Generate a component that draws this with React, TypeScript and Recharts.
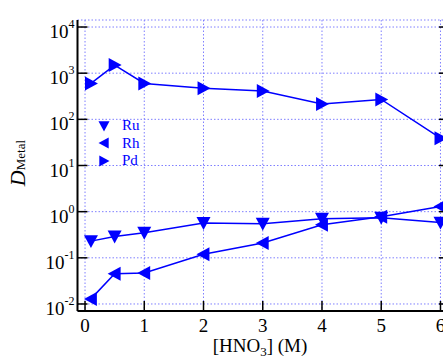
import { LineChart, Line, XAxis, YAxis, CartesianGrid, Legend } from 'recharts';

const hno3 = [0.1, 0.5, 1, 2, 3, 4, 5, 6];
const ru = [0.23, 0.29, 0.35, 0.57, 0.55, 0.7, 0.74, 0.58];
const rh = [0.0129, 0.045, 0.047, 0.12, 0.21, 0.52, 0.78, 1.3];
const pd = [600, 1500, 600, 470, 410, 215, 270, 39];

const xTicks = [0, 1, 2, 3, 4, 5, 6];
const yTicks = [0.01, 0.1, 1, 10, 100, 1000, 10000];

const data = hno3.map((x, i) => ({ x, ru: ru[i], rh: rh[i], pd: pd[i] }));

const BLUE = '#0000ff';
const SERIF = '"Liberation Serif", "DejaVu Serif", serif';

type Dir = 'down' | 'left' | 'right';

function triangle(dir: Dir, cx: number, cy: number, s: number) {
  if (dir === 'down') return `${cx - s},${cy - s * 0.85} ${cx + s},${cy - s * 0.85} ${cx},${cy + s}`;
  if (dir === 'left') return `${cx + s * 0.85},${cy - s} ${cx + s * 0.85},${cy + s} ${cx - s},${cy}`;
  return `${cx - s * 0.85},${cy - s} ${cx - s * 0.85},${cy + s} ${cx + s},${cy}`;
}

const marker = (dir: Dir) => (props: any) => {
  const { cx, cy, index } = props;
  if (cx == null || cy == null) return <g key={index} />;
  return <polygon key={index} points={triangle(dir, cx, cy, 7)} fill={BLUE} />;
};

const BottomTick = ({ x, y, payload }: any) => (
  <g>
    <line x1={x} x2={x} y1={y} y2={y - 10} stroke="#000" strokeWidth={1.5} />
    <text x={x} y={y + 21} textAnchor="middle" fontSize={19} fontFamily={SERIF} fill="#000">
      {payload.value}
    </text>
  </g>
);

const TopTick = ({ x, y }: any) => (
  <line x1={x} x2={x} y1={y} y2={y + 9} stroke="#000" strokeWidth={1.5} />
);

const LeftTick = ({ x, y, payload }: any) => {
  const exp = Math.round(Math.log10(payload.value));
  return (
    <g>
      <line x1={x} x2={x + 10} y1={y} y2={y} stroke="#000" strokeWidth={1.5} />
      <text x={x - 3} y={y + 11} textAnchor="end" fontFamily={SERIF} fill="#000">
        <tspan fontSize={19}>10</tspan>
        <tspan fontSize={12} dy={-10}>{exp}</tspan>
      </text>
    </g>
  );
};

const RightTick = ({ x, y }: any) => (
  <line x1={x} x2={x - 9} y1={y} y2={y} stroke="#000" strokeWidth={1.5} />
);

const legendItems: { name: string; dir: Dir }[] = [
  { name: 'Ru', dir: 'down' },
  { name: 'Rh', dir: 'left' },
  { name: 'Pd', dir: 'right' },
];

const LegendBox = () => (
  <div style={{ fontFamily: SERIF, fontSize: 15, color: BLUE, lineHeight: '17.5px' }}>
    {legendItems.map((it) => (
      <div key={it.name} style={{ display: 'flex', alignItems: 'center', height: 17.5 }}>
        <svg width={16} height={16} style={{ marginRight: 10 }}>
          <polygon points={triangle(it.dir, 8, 8, 5.5)} fill={BLUE} />
        </svg>
        <span>{it.name}</span>
      </div>
    ))}
  </div>
);

// y-axis title set sideways (bottom to top)
const YTitle = () => (
  <div
    style={{
      position: 'absolute',
      left: 6,
      top: 163.5 - 40,
      width: 24,
      height: 80,
      display: 'flex',
      justifyContent: 'center',
      alignItems: 'center',
      pointerEvents: 'none',
    }}
  >
    <div
      style={{
        writingMode: 'vertical-rl',
        transform: 'rotate(180deg)',
        fontFamily: SERIF,
        color: '#000',
        whiteSpace: 'nowrap',
        lineHeight: '24px',
      }}
    >
      <span style={{ fontSize: 22, fontStyle: 'italic' }}>D</span>
      <span style={{ fontSize: 13, position: 'relative', left: -3 }}>Metal</span>
    </div>
  </div>
);

const XLabel = () => (
  <text x={260} y={352} textAnchor="middle" fontFamily={SERIF} fontSize={19} fill="#000">
    [HNO<tspan fontSize={13} dy={4}>3</tspan>
    <tspan dy={-4}>] (M)</tspan>
  </text>
);

export default function App() {
  return (
    <div style={{ position: 'absolute', left: 0, top: 0, width: 443, height: 356, overflow: 'hidden', background: '#fff' }}>
      <LineChart width={451} height={356} data={data} margin={{ top: 20, right: 0, bottom: 0, left: 0 }}>
        <CartesianGrid stroke="#7f7fff" strokeDasharray="1.5 2" strokeWidth={1} />
        <XAxis
          dataKey="x"
          type="number"
          domain={[-0.127, 6.127]}
          ticks={xTicks}
          allowDataOverflow
          height={45}
          tickSize={0}
          tickMargin={0}
          tickLine={false}
          axisLine={{ stroke: '#000', strokeWidth: 2 }}
          tick={<BottomTick />}
          label={<XLabel />}
        />
        <XAxis
          xAxisId="top"
          orientation="top"
          dataKey="x"
          type="number"
          domain={[-0.127, 6.127]}
          ticks={xTicks}
          allowDataOverflow
          height={0}
          tickSize={0}
          tickMargin={0}
          tickLine={false}
          axisLine={{ stroke: '#444', strokeWidth: 2 }}
          tick={<TopTick />}
        />
        <YAxis
          scale="log"
          type="number"
          domain={[Math.pow(10, -2.152), Math.pow(10, 4.152)]}
          ticks={yTicks}
          allowDataOverflow
          width={77.5}
          tickSize={0}
          tickMargin={0}
          tickLine={false}
          axisLine={{ stroke: '#000', strokeWidth: 2 }}
          tick={<LeftTick />}
        />
        <YAxis
          yAxisId="right"
          orientation="right"
          scale="log"
          type="number"
          domain={[Math.pow(10, -2.152), Math.pow(10, 4.152)]}
          ticks={yTicks}
          allowDataOverflow
          width={3}
          tickSize={0}
          tickMargin={0}
          tickLine={false}
          axisLine={false}
          tick={<RightTick />}
        />
        <Legend
          layout="vertical"
          align="center"
          verticalAlign="middle"
          content={<LegendBox />}
          wrapperStyle={{ left: 96, top: 117, width: 60 }}
        />
        <Line dataKey="ru" name="Ru" stroke={BLUE} strokeWidth={1.5} dot={marker('down')} isAnimationActive={false} />
        <Line dataKey="rh" name="Rh" stroke={BLUE} strokeWidth={1.5} dot={marker('left')} isAnimationActive={false} />
        <Line dataKey="pd" name="Pd" stroke={BLUE} strokeWidth={1.5} dot={marker('right')} isAnimationActive={false} />
      </LineChart>
      <YTitle />
    </div>
  );
}
